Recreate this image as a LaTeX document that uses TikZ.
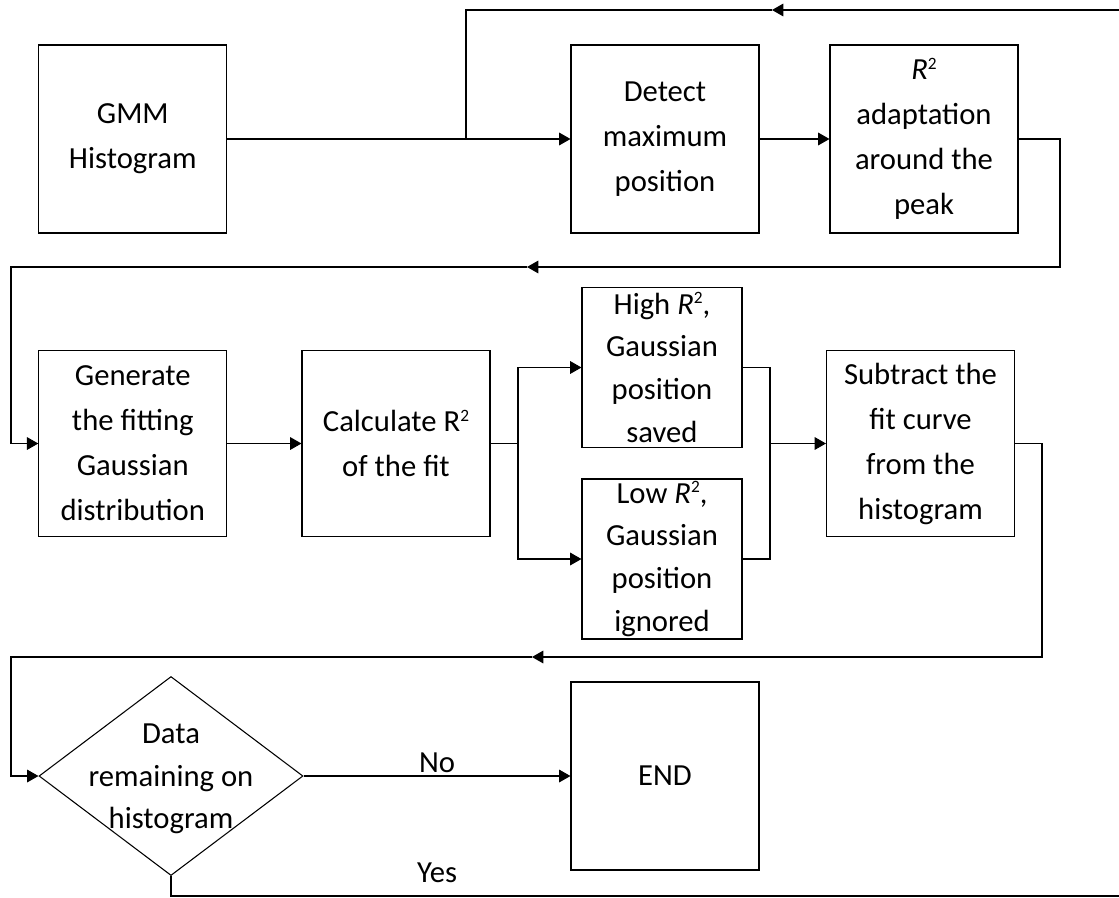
\documentclass[tikz,border=0pt]{standalone}
\usepackage{fontspec}
\setmainfont{Carlito}
\usetikzlibrary{shapes.geometric,arrows.meta}
% small raised "2" for R squared
\newcommand\sqtwo{\raisebox{0.33em}{\fontsize{13}{13}\selectfont 2}}
\begin{document}
\begin{tikzpicture}[x=0.75pt,y=-0.75pt,
  line width=0.8pt,
  box/.style={draw, line width=0.8pt, inner sep=0pt, minimum width=141pt, minimum height=141pt,
    align=center, font=\fontsize{23}{33.75}\selectfont},
  smallbox/.style={box, minimum width=120pt, minimum height=120pt, font=\fontsize{23}{32}\selectfont},
  arr/.style={-{Triangle[length=8.5pt,width=9.5pt]}},
  lbl/.style={font=\fontsize{23}{32}\selectfont, inner sep=0pt, align=center}
]
\useasboundingbox (0,0) rectangle (1119,897);

% process boxes
\node[box] (gmm) at (132.8,139) {GMM\\Histogram};
\node[box] (detect) at (665,139) {Detect\\maximum\\position};
\node[box] (adapt) at (924,139) {\textit{R}\sqtwo\\adaptation\\around the\\peak};
\node[box, minimum height=140pt] (gen) at (132.8,443.5) {Generate\\the fitting\\Gaussian\\distribution};
\node[box, minimum height=140pt] (calc) at (396,443.5) {Calculate R\sqtwo\\of the fit};
\node[smallbox] (high) at (662,367.5) {High \textit{R}\sqtwo,\\Gaussian\\position\\saved};
\node[smallbox] (low) at (662,559) {Low \textit{R}\sqtwo,\\Gaussian\\position\\ignored};
\node[box, minimum height=140pt] (sub) at (920.5,443.5) {Subtract the\\fit curve\\from the\\histogram};
\node[box] (end) at (665,776) {END};

% decision
\node[draw, diamond, minimum width=198pt, minimum height=149.25pt, inner sep=0pt] (dec) at (171,776) {};
\node[lbl] (dectxt) at (171,779) {Data\\remaining on\\histogram};

% first row and the outer loop entering it
\coordinate (j1) at (466,139);
\coordinate (tr) at (1119,10);
\coordinate (ta) at (772,10);
\coordinate (tl) at (466,10);
\draw[arr] (gmm.east) -- (detect.west);
\draw[arr] (tr) -- (ta);
\draw (ta) -- (tl) -- (j1);
\draw[arr] (detect.east) -- (adapt.west);

% return to second row
\coordinate (l2r) at (1060,267);
\coordinate (l2a) at (527,267);
\coordinate (l2l) at (11,267);
\draw[arr] (adapt.east) -| (l2r) -- (l2a);
\draw[arr] (l2a) -- (l2l) |- (gen.west);
\draw[arr] (gen.east) -- (calc.west);

% branch on R^2 and merge
\coordinate (bs) at (518,443.5);
\coordinate (mg) at (770,443.5);
\draw (calc.east) -- (bs);
\draw[arr] (bs) |- (high.west);
\draw[arr] (bs) |- (low.west);
\draw (high.east) -| (mg);
\draw (low.east) -| (mg);
\draw[arr] (mg) -- (sub.west);

% return to decision row
\coordinate (l3r) at (1042,657);
\coordinate (l3a) at (532,657);
\coordinate (l3l) at (11,657);
\draw[arr] (sub.east) -| (l3r) -- (l3a);
\draw[arr] (l3a) -- (l3l) |- (dec.west);

% decision outcomes
\draw[arr] (dec.east) -- (end.west);
\node[lbl, anchor=base] (no) at (437,772) {No};
\coordinate (yb) at (171,896);
\coordinate (ye) at (1119,896);
\draw (dec.south) -- (yb) -- (ye);
\node[lbl, anchor=base] (yes) at (437,882) {Yes};
\end{tikzpicture}
\end{document}
